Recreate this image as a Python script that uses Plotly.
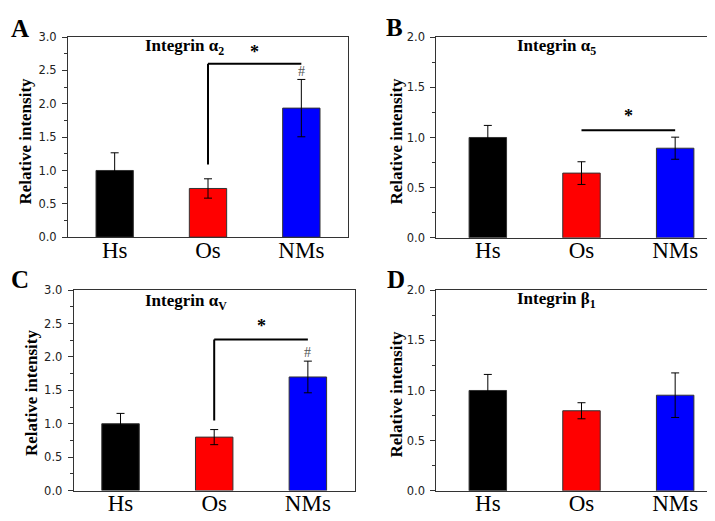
import plotly.graph_objects as go
from plotly.subplots import make_subplots

categories = ["Hs", "Os", "NMs"]
bar_colors = ["#000000", "#FF0000", "#0000FF"]

a_vals = [1.0, 0.73, 1.935]
a_err = [0.265, 0.145, 0.43]
b_vals = [1.0, 0.645, 0.893]
b_err = [0.12, 0.113, 0.11]
c_vals = [1.0, 0.80, 1.70]
c_err = [0.155, 0.113, 0.237]
d_vals = [1.0, 0.798, 0.953]
d_err = [0.16, 0.08, 0.222]

titles = ["Integrin α<sub>2</sub>", "Integrin α<sub>5</sub>",
          "Integrin α<sub>V</sub>", "Integrin β<sub>1</sub>"]
panel_letters = ["A", "B", "C", "D"]
y_max = [3.0, 2.0, 3.0, 2.0]

# significance markers: (x_from, x_to, y_vertical_start, y_line, y_star, y_hash)
sig_a = [1, 2, 1.09, 2.6, 2.77, 2.48]
sig_b = [1, 2, None, 1.073, 1.21, None]
sig_c = [1, 2, 1.05, 2.26, 2.47, 2.06]

SERIF = "Liberation Serif, Times New Roman, serif"
SANS = "DejaVu Sans, Arial, sans-serif"

W, H = 715, 521
# panel pixel boxes (left, right, top, bottom)
boxes = [(60, 340, 22.7, 228.3), (428.3, 714, 22.7, 229),
         (65.7, 346.7, 282.7, 488.7), (428.3, 714, 282.7, 489)]
xranges = [[-0.5, 2.5], [-0.55, 2.5], [-0.5, 2.5], [-0.55, 2.5]]

fig = make_subplots(rows=2, cols=2)
data = [(a_vals, a_err), (b_vals, b_err), (c_vals, c_err), (d_vals, d_err)]
for i, (vals, errs) in enumerate(data):
    r, c = i // 2 + 1, i % 2 + 1
    fig.add_trace(go.Bar(
        x=categories, y=vals, width=0.4,
        marker=dict(color=bar_colors, line=dict(color="#333333", width=1)),
        error_y=dict(type="data", array=errs, visible=True, color="#000000",
                     thickness=1, width=4),
        showlegend=False), row=r, col=c)

for i, (l, rt, t, b) in enumerate(boxes):
    sfx = "" if i == 0 else str(i + 1)
    fig.layout["xaxis" + sfx].update(
        domain=[l / W, rt / W], range=xranges[i], showgrid=False,
        showline=True, linecolor="#333333", linewidth=1, mirror=True,
        ticks="", tickfont=dict(family=SERIF, size=23, color="#000000"),
        ticklabelstandoff=-8, fixedrange=True)
    fig.layout["yaxis" + sfx].update(
        domain=[1 - b / H, 1 - t / H], range=[0, y_max[i]], dtick=0.5,
        tickformat=".1f", showgrid=False, zeroline=False,
        showline=True, linecolor="#333333", linewidth=1, mirror=True,
        ticks="outside", ticklen=5, tickcolor="#333333",
        minor=dict(ticks="outside", ticklen=3, dtick=0.25, tickcolor="#333333"),
        tickfont=dict(family=SANS, size=11.5, color="#222222"),
        ticklabelstandoff=3, fixedrange=True)

# titles inside panels
title_pos = [(0.416, 0.95), (0.422, 0.95), (0.40, 0.94), (0.422, 0.95)]
for i, txt in enumerate(titles):
    sfx = "" if i == 0 else str(i + 1)
    fig.add_annotation(text="<b>" + txt + "</b>", xref="x" + sfx + " domain",
                       yref="y" + sfx + " domain", x=title_pos[i][0], y=title_pos[i][1],
                       showarrow=False, xanchor="center", yanchor="middle",
                       font=dict(family=SERIF, size=17, color="#000000"))

# y axis titles
ytitle_pos = [(18, 130), (389, 130), (23.5, 388), (389, 390)]
for (px, py) in ytitle_pos:
    fig.add_annotation(text="<b>Relative intensity</b>", xref="paper", yref="paper",
                       x=px / W, y=1 - py / H, textangle=-90, showarrow=False,
                       xanchor="center", yanchor="middle",
                       font=dict(family=SERIF, size=17, color="#000000"))

# panel letters
letter_pos = [(1, 14), (376, 13), (1, 271.5), (377, 271.5)]
for letter, (px, py) in zip(panel_letters, letter_pos):
    fig.add_annotation(text="<b>" + letter + "</b>", xref="paper", yref="paper",
                       x=px / W, y=1 - py / H, showarrow=False,
                       xanchor="left", yanchor="middle",
                       font=dict(family=SERIF, size=25, color="#000000"))

# significance brackets
for idx, sig in [(0, sig_a), (1, sig_b), (2, sig_c)]:
    sfx = "" if idx == 0 else str(idx + 1)
    x0, x1, yv, yl, ys, yh = sig
    xr, yr = "x" + sfx, "y" + sfx
    if yv is not None:
        fig.add_shape(type="line", xref=xr, yref=yr, x0=x0, x1=x0, y0=yv, y1=yl,
                      line=dict(color="#000000", width=2))
    fig.add_shape(type="line", xref=xr, yref=yr, x0=x0, x1=x1, y0=yl, y1=yl,
                  line=dict(color="#000000", width=2))
    fig.add_annotation(text="<b>*</b>", xref=xr, yref=yr, x=(x0 + x1) / 2, y=ys,
                       showarrow=False, yanchor="middle",
                       font=dict(family=SERIF, size=18, color="#000000"))
    if yh is not None:
        fig.add_annotation(text="#", xref=xr, yref=yr, x=x1, y=yh,
                           showarrow=False, yanchor="middle",
                           font=dict(family=SERIF, size=14, color="#555555"))

fig.update_layout(width=W, height=H, margin=dict(l=0, r=0, t=0, b=0),
                  plot_bgcolor="#FFFFFF", paper_bgcolor="#FFFFFF", bargap=0.6)
fig.write_html("out.html")
